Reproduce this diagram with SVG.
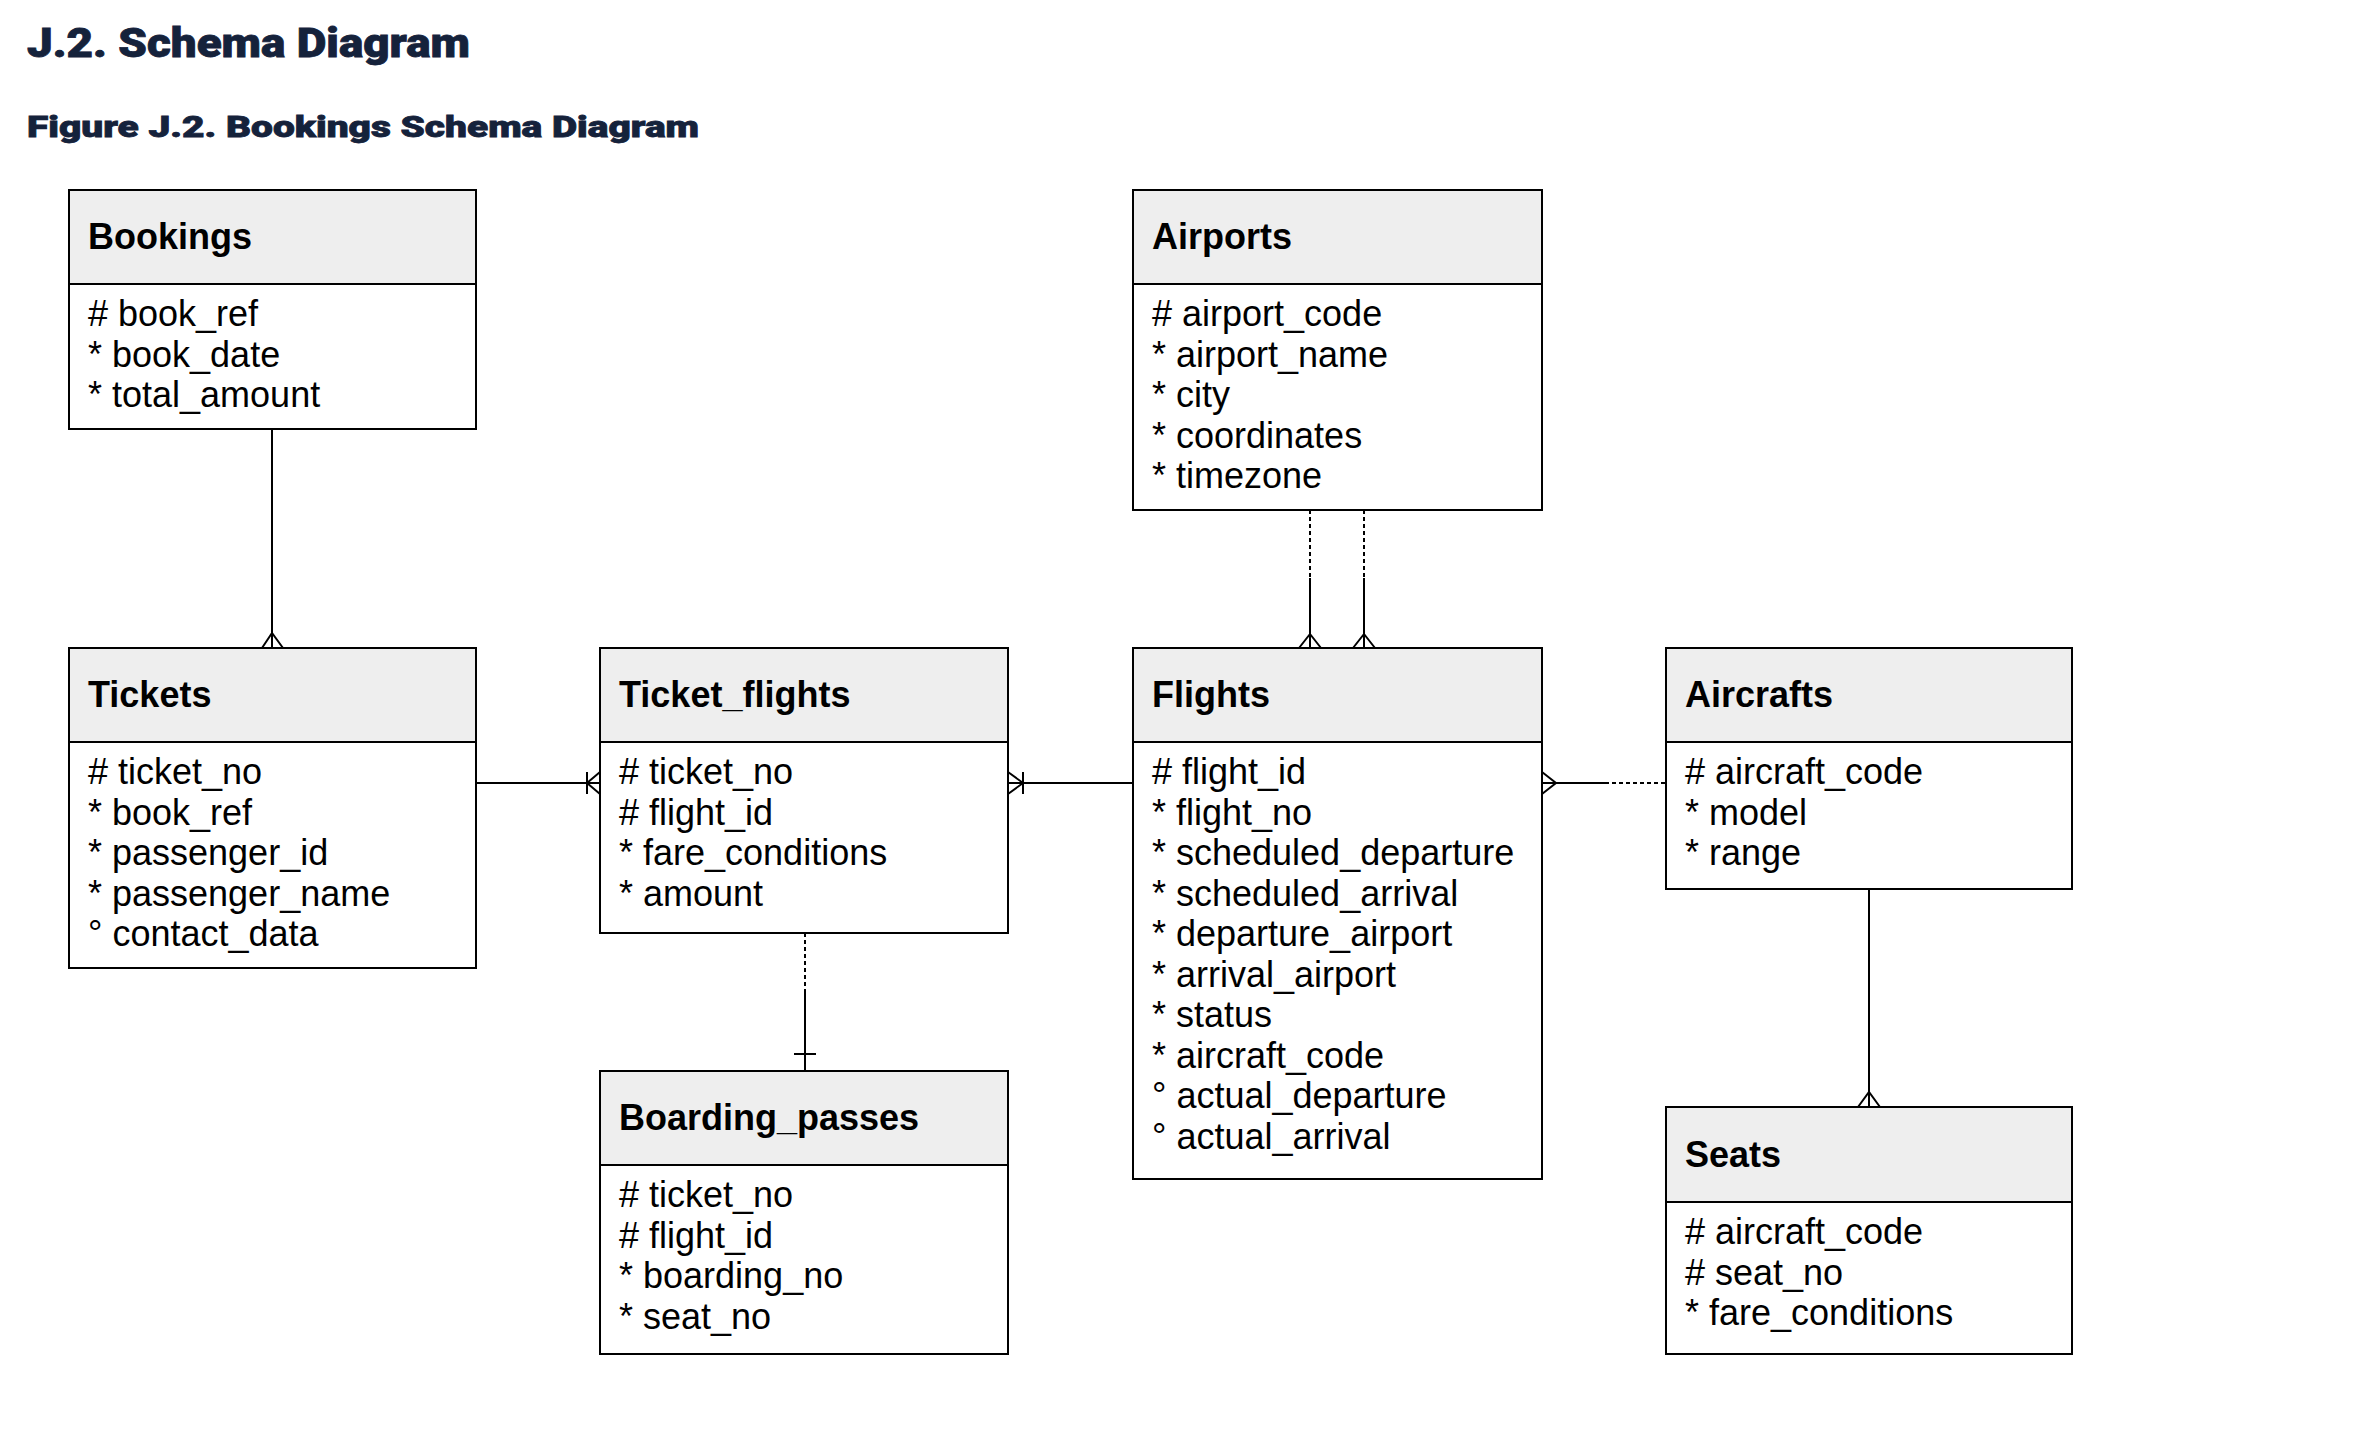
<svg xmlns="http://www.w3.org/2000/svg" width="2362" height="1436" viewBox="0 0 2362 1436">
<style>
.bg{fill:#ffffff}
.title{font-family:Roboto,"Liberation Sans",sans-serif;font-weight:900;fill:#15223b;stroke:#15223b;stroke-width:0.8}
.hdr{fill:#eeeeee;stroke:#000;stroke-width:2}
.body{fill:#ffffff;stroke:#000;stroke-width:2}
.hname{font-family:"Liberation Sans",Arial,sans-serif;font-weight:bold;font-size:36px;fill:#000}
.attr{font-family:"Liberation Sans",Arial,sans-serif;font-size:36px;fill:#000}
.ln{fill:none;stroke:#000;stroke-width:2}
.dash{fill:none;stroke:#000;stroke-width:2;stroke-dasharray:4 3}
</style>
<rect class="bg" x="0" y="0" width="2362" height="1436"/>
<text class="title" x="27" y="57" font-size="40" textLength="443" lengthAdjust="spacingAndGlyphs">J.2. Schema Diagram</text>
<text class="title" x="27" y="137" font-size="30" textLength="672" lengthAdjust="spacingAndGlyphs">Figure J.2. Bookings Schema Diagram</text>

<g id="connectors">
  <!-- Bookings -> Tickets -->
  <path class="ln" d="M272,429 V648 M262,648 L272,633 L283,648"/>
  <!-- Tickets -> Ticket_flights -->
  <path class="ln" d="M476,783 H600 M587,772 V794 M600,772 L587,783 L600,794"/>
  <!-- Ticket_flights -> Flights -->
  <path class="ln" d="M1008,783 H1133 M1023,772 V794 M1008,772 L1023,783 L1008,794"/>
  <!-- Ticket_flights -> Boarding_passes -->
  <path class="dash" d="M805,933 V993"/>
  <path class="ln" d="M805,993 V1071 M794,1054 H816"/>
  <!-- Airports -> Flights (departure) -->
  <path class="dash" d="M1310,510 V578"/>
  <path class="ln" d="M1310,578 V648 M1299,648 L1310,634 L1321,648"/>
  <!-- Airports -> Flights (arrival) -->
  <path class="dash" d="M1364,510 V578"/>
  <path class="ln" d="M1364,578 V648 M1353,648 L1364,634 L1375,648"/>
  <!-- Aircrafts -> Flights -->
  <path class="ln" d="M1542,783 H1605 M1542,772 L1556,783 L1542,794"/>
  <path class="dash" d="M1605,783 H1666"/>
  <!-- Aircrafts -> Seats -->
  <path class="ln" d="M1869,889 V1107 M1858,1107 L1869,1092 L1880,1107"/>
</g>

<g id="bookings">
  <rect class="body" x="69" y="190" width="407" height="239"/>
  <rect class="hdr" x="69" y="190" width="407" height="94"/>
  <text class="hname" x="88" y="249">Bookings</text>
  <text class="attr" x="88" y="326">
    <tspan x="88" y="326"># book_ref</tspan>
    <tspan x="88" y="366.5">* book_date</tspan>
    <tspan x="88" y="407">* total_amount</tspan>
  </text>
</g>

<g id="tickets">
  <rect class="body" x="69" y="648" width="407" height="320"/>
  <rect class="hdr" x="69" y="648" width="407" height="94"/>
  <text class="hname" x="88" y="707">Tickets</text>
  <text class="attr" x="88" y="784">
    <tspan x="88" y="784"># ticket_no</tspan>
    <tspan x="88" y="824.5">* book_ref</tspan>
    <tspan x="88" y="865">* passenger_id</tspan>
    <tspan x="88" y="905.5">* passenger_name</tspan>
    <tspan x="88" y="946">° contact_data</tspan>
  </text>
</g>

<g id="ticket_flights">
  <rect class="body" x="600" y="648" width="408" height="285"/>
  <rect class="hdr" x="600" y="648" width="408" height="94"/>
  <text class="hname" x="619" y="707">Ticket_flights</text>
  <text class="attr" x="619" y="784">
    <tspan x="619" y="784"># ticket_no</tspan>
    <tspan x="619" y="824.5"># flight_id</tspan>
    <tspan x="619" y="865">* fare_conditions</tspan>
    <tspan x="619" y="905.5">* amount</tspan>
  </text>
</g>

<g id="boarding_passes">
  <rect class="body" x="600" y="1071" width="408" height="283"/>
  <rect class="hdr" x="600" y="1071" width="408" height="94"/>
  <text class="hname" x="619" y="1130">Boarding_passes</text>
  <text class="attr" x="619" y="1207">
    <tspan x="619" y="1207"># ticket_no</tspan>
    <tspan x="619" y="1247.5"># flight_id</tspan>
    <tspan x="619" y="1288">* boarding_no</tspan>
    <tspan x="619" y="1328.5">* seat_no</tspan>
  </text>
</g>

<g id="airports">
  <rect class="body" x="1133" y="190" width="409" height="320"/>
  <rect class="hdr" x="1133" y="190" width="409" height="94"/>
  <text class="hname" x="1152" y="249">Airports</text>
  <text class="attr" x="1152" y="326">
    <tspan x="1152" y="326"># airport_code</tspan>
    <tspan x="1152" y="366.5">* airport_name</tspan>
    <tspan x="1152" y="407">* city</tspan>
    <tspan x="1152" y="447.5">* coordinates</tspan>
    <tspan x="1152" y="488">* timezone</tspan>
  </text>
</g>

<g id="flights">
  <rect class="body" x="1133" y="648" width="409" height="531"/>
  <rect class="hdr" x="1133" y="648" width="409" height="94"/>
  <text class="hname" x="1152" y="707">Flights</text>
  <text class="attr" x="1152" y="784">
    <tspan x="1152" y="784"># flight_id</tspan>
    <tspan x="1152" y="824.5">* flight_no</tspan>
    <tspan x="1152" y="865">* scheduled_departure</tspan>
    <tspan x="1152" y="905.5">* scheduled_arrival</tspan>
    <tspan x="1152" y="946">* departure_airport</tspan>
    <tspan x="1152" y="986.5">* arrival_airport</tspan>
    <tspan x="1152" y="1027">* status</tspan>
    <tspan x="1152" y="1067.5">* aircraft_code</tspan>
    <tspan x="1152" y="1108">° actual_departure</tspan>
    <tspan x="1152" y="1148.5">° actual_arrival</tspan>
  </text>
</g>

<g id="aircrafts">
  <rect class="body" x="1666" y="648" width="406" height="241"/>
  <rect class="hdr" x="1666" y="648" width="406" height="94"/>
  <text class="hname" x="1685" y="707">Aircrafts</text>
  <text class="attr" x="1685" y="784">
    <tspan x="1685" y="784"># aircraft_code</tspan>
    <tspan x="1685" y="824.5">* model</tspan>
    <tspan x="1685" y="865">* range</tspan>
  </text>
</g>

<g id="seats">
  <rect class="body" x="1666" y="1107" width="406" height="247"/>
  <rect class="hdr" x="1666" y="1107" width="406" height="95"/>
  <text class="hname" x="1685" y="1167">Seats</text>
  <text class="attr" x="1685" y="1244">
    <tspan x="1685" y="1244"># aircraft_code</tspan>
    <tspan x="1685" y="1284.5"># seat_no</tspan>
    <tspan x="1685" y="1325">* fare_conditions</tspan>
  </text>
</g>
</svg>
